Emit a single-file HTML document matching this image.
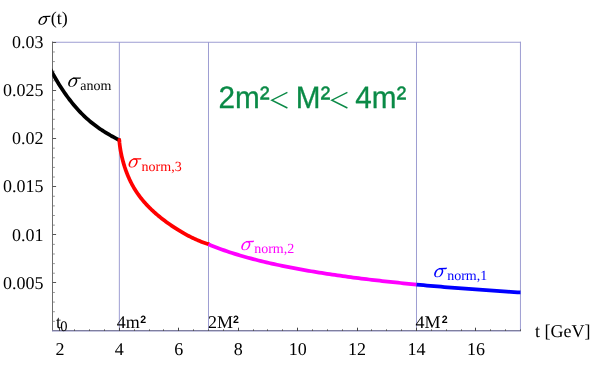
<!DOCTYPE html>
<html><head><meta charset="utf-8"><title>plot</title>
<style>
html,body{margin:0;padding:0;background:#fff;}
body{width:594px;height:367px;overflow:hidden;font-family:"Liberation Serif",serif;}
svg{display:block;will-change:transform;text-rendering:geometricPrecision;}
</style></head><body>
<svg width="594" height="367" viewBox="0 0 594 367">
<defs><clipPath id="cp"><rect x="52.2" y="30" width="468.3" height="310"/></clipPath></defs>
<rect width="594" height="367" fill="#fff"/>
<line x1="119.35" y1="42.0" x2="119.35" y2="330.6" stroke="#9d9dd2" stroke-width="1"/>
<line x1="208.49" y1="42.0" x2="208.49" y2="330.6" stroke="#9d9dd2" stroke-width="1"/>
<line x1="416.49" y1="42.0" x2="416.49" y2="330.6" stroke="#9d9dd2" stroke-width="1"/>
<line x1="52.5" y1="42.25" x2="520.95" y2="42.25" stroke="#9d9dd2" stroke-width="1"/>
<line x1="520.45" y1="41.8" x2="520.45" y2="331.1" stroke="#9d9dd2" stroke-width="1"/>
<line x1="52.5" y1="41.5" x2="52.5" y2="331.1" stroke="#6e6e6e" stroke-width="1"/>
<line x1="52.0" y1="330.6" x2="520.95" y2="330.6" stroke="#7f7fa0" stroke-width="1.1"/>
<line x1="52.0" y1="331.5" x2="520.95" y2="331.5" stroke="#9d9dd2" stroke-width="1" opacity="0.35"/>
<line x1="52.5" y1="321.33" x2="54.9" y2="321.33" stroke="#777" stroke-width="0.75"/>
<line x1="52.5" y1="311.71" x2="54.9" y2="311.71" stroke="#777" stroke-width="0.75"/>
<line x1="52.5" y1="302.09" x2="54.9" y2="302.09" stroke="#777" stroke-width="0.75"/>
<line x1="52.5" y1="292.47" x2="54.9" y2="292.47" stroke="#777" stroke-width="0.75"/>
<line x1="52.5" y1="282.50" x2="56.1" y2="282.50" stroke="#555" stroke-width="1"/>
<line x1="52.5" y1="273.23" x2="54.9" y2="273.23" stroke="#777" stroke-width="0.75"/>
<line x1="52.5" y1="263.61" x2="54.9" y2="263.61" stroke="#777" stroke-width="0.75"/>
<line x1="52.5" y1="253.99" x2="54.9" y2="253.99" stroke="#777" stroke-width="0.75"/>
<line x1="52.5" y1="244.37" x2="54.9" y2="244.37" stroke="#777" stroke-width="0.75"/>
<line x1="52.5" y1="234.50" x2="56.1" y2="234.50" stroke="#555" stroke-width="1"/>
<line x1="52.5" y1="225.13" x2="54.9" y2="225.13" stroke="#777" stroke-width="0.75"/>
<line x1="52.5" y1="215.51" x2="54.9" y2="215.51" stroke="#777" stroke-width="0.75"/>
<line x1="52.5" y1="205.89" x2="54.9" y2="205.89" stroke="#777" stroke-width="0.75"/>
<line x1="52.5" y1="196.27" x2="54.9" y2="196.27" stroke="#777" stroke-width="0.75"/>
<line x1="52.5" y1="186.50" x2="56.1" y2="186.50" stroke="#555" stroke-width="1"/>
<line x1="52.5" y1="177.03" x2="54.9" y2="177.03" stroke="#777" stroke-width="0.75"/>
<line x1="52.5" y1="167.41" x2="54.9" y2="167.41" stroke="#777" stroke-width="0.75"/>
<line x1="52.5" y1="157.79" x2="54.9" y2="157.79" stroke="#777" stroke-width="0.75"/>
<line x1="52.5" y1="148.17" x2="54.9" y2="148.17" stroke="#777" stroke-width="0.75"/>
<line x1="52.5" y1="138.50" x2="56.1" y2="138.50" stroke="#555" stroke-width="1"/>
<line x1="52.5" y1="128.93" x2="54.9" y2="128.93" stroke="#777" stroke-width="0.75"/>
<line x1="52.5" y1="119.31" x2="54.9" y2="119.31" stroke="#777" stroke-width="0.75"/>
<line x1="52.5" y1="109.69" x2="54.9" y2="109.69" stroke="#777" stroke-width="0.75"/>
<line x1="52.5" y1="100.07" x2="54.9" y2="100.07" stroke="#777" stroke-width="0.75"/>
<line x1="52.5" y1="90.50" x2="56.1" y2="90.50" stroke="#555" stroke-width="1"/>
<line x1="52.5" y1="80.83" x2="54.9" y2="80.83" stroke="#777" stroke-width="0.75"/>
<line x1="52.5" y1="71.21" x2="54.9" y2="71.21" stroke="#777" stroke-width="0.75"/>
<line x1="52.5" y1="61.59" x2="54.9" y2="61.59" stroke="#777" stroke-width="0.75"/>
<line x1="52.5" y1="51.97" x2="54.9" y2="51.97" stroke="#777" stroke-width="0.75"/>
<line x1="52.5" y1="42.50" x2="56.1" y2="42.50" stroke="#555" stroke-width="1"/>
<line x1="59.50" y1="331" x2="59.50" y2="327.7" stroke="#444" stroke-width="1"/>
<line x1="74.50" y1="331" x2="74.50" y2="329.4" stroke="#555" stroke-width="1"/>
<line x1="89.50" y1="331" x2="89.50" y2="329.4" stroke="#555" stroke-width="1"/>
<line x1="104.50" y1="331" x2="104.50" y2="329.4" stroke="#555" stroke-width="1"/>
<line x1="119.50" y1="331" x2="119.50" y2="327.7" stroke="#444" stroke-width="1"/>
<line x1="134.50" y1="331" x2="134.50" y2="329.4" stroke="#555" stroke-width="1"/>
<line x1="149.50" y1="331" x2="149.50" y2="329.4" stroke="#555" stroke-width="1"/>
<line x1="163.50" y1="331" x2="163.50" y2="329.4" stroke="#555" stroke-width="1"/>
<line x1="178.50" y1="331" x2="178.50" y2="327.7" stroke="#444" stroke-width="1"/>
<line x1="193.50" y1="331" x2="193.50" y2="329.4" stroke="#555" stroke-width="1"/>
<line x1="208.50" y1="331" x2="208.50" y2="329.4" stroke="#555" stroke-width="1"/>
<line x1="223.50" y1="331" x2="223.50" y2="329.4" stroke="#555" stroke-width="1"/>
<line x1="238.50" y1="331" x2="238.50" y2="327.7" stroke="#444" stroke-width="1"/>
<line x1="253.50" y1="331" x2="253.50" y2="329.4" stroke="#555" stroke-width="1"/>
<line x1="267.50" y1="331" x2="267.50" y2="329.4" stroke="#555" stroke-width="1"/>
<line x1="282.50" y1="331" x2="282.50" y2="329.4" stroke="#555" stroke-width="1"/>
<line x1="297.50" y1="331" x2="297.50" y2="327.7" stroke="#444" stroke-width="1"/>
<line x1="312.50" y1="331" x2="312.50" y2="329.4" stroke="#555" stroke-width="1"/>
<line x1="327.50" y1="331" x2="327.50" y2="329.4" stroke="#555" stroke-width="1"/>
<line x1="342.50" y1="331" x2="342.50" y2="329.4" stroke="#555" stroke-width="1"/>
<line x1="357.50" y1="331" x2="357.50" y2="327.7" stroke="#444" stroke-width="1"/>
<line x1="371.50" y1="331" x2="371.50" y2="329.4" stroke="#555" stroke-width="1"/>
<line x1="386.50" y1="331" x2="386.50" y2="329.4" stroke="#555" stroke-width="1"/>
<line x1="401.50" y1="331" x2="401.50" y2="329.4" stroke="#555" stroke-width="1"/>
<line x1="416.50" y1="331" x2="416.50" y2="327.7" stroke="#444" stroke-width="1"/>
<line x1="431.50" y1="331" x2="431.50" y2="329.4" stroke="#555" stroke-width="1"/>
<line x1="446.50" y1="331" x2="446.50" y2="329.4" stroke="#555" stroke-width="1"/>
<line x1="461.50" y1="331" x2="461.50" y2="329.4" stroke="#555" stroke-width="1"/>
<line x1="475.50" y1="331" x2="475.50" y2="327.7" stroke="#444" stroke-width="1"/>
<line x1="490.50" y1="331" x2="490.50" y2="329.4" stroke="#555" stroke-width="1"/>
<line x1="505.50" y1="331" x2="505.50" y2="329.4" stroke="#555" stroke-width="1"/>
<line x1="520.50" y1="331" x2="520.50" y2="329.4" stroke="#555" stroke-width="1"/>
<polyline points="48.50,65.54 49.82,68.10 51.14,70.61 52.46,73.06 53.79,75.44 55.11,77.77 56.43,80.04 57.75,82.25 59.07,84.40 60.39,86.50 61.71,88.55 63.03,90.54 64.36,92.48 65.68,94.38 67.00,96.22 68.32,98.01 69.64,99.75 70.96,101.45 72.28,103.10 73.60,104.70 74.93,106.27 76.25,107.78 77.57,109.26 78.89,110.70 80.21,112.09 81.53,113.45 82.85,114.77 84.17,116.05 85.50,117.30 86.82,118.51 88.14,119.69 89.46,120.83 90.78,121.95 92.10,123.03 93.42,124.08 94.75,125.10 96.07,126.10 97.39,127.07 98.71,128.01 100.03,128.93 101.35,129.82 102.67,130.69 103.99,131.54 105.32,132.37 106.64,133.18 107.96,133.97 109.28,134.74 110.60,135.50 111.92,136.24 113.24,136.97 114.56,137.68 115.89,138.38 117.21,139.06 118.53,139.74 119.85,140.41" fill="none" stroke="#000" stroke-width="3.75" stroke-linecap="butt" stroke-linejoin="round" clip-path="url(#cp)"/>
<polyline points="119.35,139.95 119.36,140.43 119.38,140.96 119.41,141.55 119.45,142.18 119.51,142.86 119.58,143.59 119.66,144.35 119.75,145.15 119.86,145.98 119.98,146.85 120.11,147.75 120.26,148.67 120.41,149.63 120.58,150.60 120.77,151.60 120.96,152.62 121.17,153.65 121.39,154.70 121.62,155.77 121.87,156.84 122.13,157.93 122.40,159.03 122.68,160.14 122.98,161.25 123.28,162.37 123.61,163.50 123.94,164.62 124.29,165.75 124.64,166.89 125.02,168.02 125.40,169.15 125.80,170.28 126.21,171.41 126.63,172.53 127.06,173.65 127.51,174.77 127.97,175.88 128.44,176.99 128.93,178.09 129.42,179.18 129.93,180.27 130.46,181.35 130.99,182.43 131.54,183.49 132.10,184.55 132.67,185.60 133.26,186.64 133.85,187.68 134.47,188.70 135.09,189.72 135.72,190.73 136.37,191.73 137.03,192.72 137.71,193.71 138.39,194.68 139.09,195.65 139.80,196.61 140.53,197.56 141.26,198.50 142.01,199.43 142.78,200.36 143.55,201.28 144.34,202.19 145.14,203.10 145.95,204.00 146.77,204.89 147.61,205.78 148.46,206.66 149.32,207.53 150.20,208.40 151.09,209.26 151.99,210.11 152.90,210.97 153.82,211.81 154.76,212.65 155.71,213.49 156.68,214.33 157.65,215.15 158.64,215.98 159.64,216.80 160.65,217.62 161.68,218.43 162.72,219.24 163.77,220.05 164.83,220.85 165.91,221.65 167.00,222.45 168.10,223.24 169.22,224.03 170.34,224.81 171.48,225.59 172.63,226.37 173.80,227.14 174.98,227.91 176.17,228.68 177.37,229.44 178.58,230.19 179.81,230.94 181.05,231.68 182.30,232.42 183.57,233.15 184.85,233.87 186.14,234.58 187.44,235.29 188.76,235.98 190.09,236.67 191.43,237.34 192.78,238.00 194.15,238.65 195.53,239.28 196.92,239.90 198.32,240.50 199.74,241.08 201.17,241.65 202.61,242.20 204.06,242.72 205.53,243.22 207.01,243.70 208.50,244.15" fill="none" stroke="#f00" stroke-width="3.75" stroke-linecap="round" stroke-linejoin="round" clip-path="url(#cp)"/>
<polyline points="208.50,244.34 211.13,245.44 213.77,246.49 216.40,247.51 219.03,248.50 221.66,249.46 224.30,250.39 226.93,251.29 229.56,252.17 232.20,253.02 234.83,253.85 237.46,254.66 240.09,255.45 242.73,256.22 245.36,256.96 247.99,257.70 250.63,258.41 253.26,259.11 255.89,259.79 258.53,260.45 261.16,261.10 263.79,261.74 266.42,262.36 269.06,262.97 271.69,263.57 274.32,264.15 276.96,264.72 279.59,265.29 282.22,265.84 284.85,266.38 287.49,266.90 290.12,267.42 292.75,267.93 295.39,268.43 298.02,268.92 300.65,269.41 303.28,269.88 305.92,270.35 308.55,270.80 311.18,271.25 313.82,271.69 316.45,272.13 319.08,272.55 321.72,272.97 324.35,273.39 326.98,273.79 329.61,274.19 332.25,274.59 334.88,274.97 337.51,275.35 340.15,275.73 342.78,276.10 345.41,276.46 348.04,276.82 350.68,277.17 353.31,277.52 355.94,277.86 358.58,278.20 361.21,278.53 363.84,278.86 366.47,279.18 369.11,279.50 371.74,279.82 374.37,280.13 377.01,280.43 379.64,280.73 382.27,281.03 384.91,281.32 387.54,281.61 390.17,281.90 392.80,282.18 395.44,282.46 398.07,282.73 400.70,283.00 403.34,283.27 405.97,283.53 408.60,283.79 411.23,284.05 413.87,284.30 416.50,284.55" fill="none" stroke="#f0f" stroke-width="3.75" stroke-linecap="butt" stroke-linejoin="round" clip-path="url(#cp)"/>
<polyline points="416.50,284.55 419.98,284.88 423.46,285.20 426.95,285.52 430.43,285.83 433.91,286.14 437.39,286.44 440.88,286.74 444.36,287.03 447.84,287.32 451.32,287.60 454.80,287.88 458.29,288.15 461.77,288.42 465.25,288.69 468.73,288.95 472.22,289.21 475.70,289.47 479.18,289.72 482.66,289.97 486.15,290.21 489.63,290.46 493.11,290.69 496.59,290.93 500.07,291.16 503.56,291.39 507.04,291.61 510.52,291.84 514.00,292.06 517.49,292.27 520.97,292.49 524.45,292.70" fill="none" stroke="#00f" stroke-width="3.75" stroke-linecap="butt" stroke-linejoin="round" clip-path="url(#cp)"/>
<text x="43.6" y="48.10" font-size="18" fill="#000" text-anchor="end" font-family="Liberation Serif, serif" >0.03</text>
<text x="43.6" y="96.20" font-size="18" fill="#000" text-anchor="end" font-family="Liberation Serif, serif" >0.025</text>
<text x="43.6" y="144.30" font-size="18" fill="#000" text-anchor="end" font-family="Liberation Serif, serif" >0.02</text>
<text x="43.6" y="192.40" font-size="18" fill="#000" text-anchor="end" font-family="Liberation Serif, serif" >0.015</text>
<text x="43.6" y="240.50" font-size="18" fill="#000" text-anchor="end" font-family="Liberation Serif, serif" >0.01</text>
<text x="43.6" y="288.60" font-size="18" fill="#000" text-anchor="end" font-family="Liberation Serif, serif" >0.005</text>
<text x="59.92" y="354.8" font-size="18" fill="#000" text-anchor="middle" font-family="Liberation Serif, serif" >2</text>
<text x="119.35" y="354.8" font-size="18" fill="#000" text-anchor="middle" font-family="Liberation Serif, serif" >4</text>
<text x="178.78" y="354.8" font-size="18" fill="#000" text-anchor="middle" font-family="Liberation Serif, serif" >6</text>
<text x="238.21" y="354.8" font-size="18" fill="#000" text-anchor="middle" font-family="Liberation Serif, serif" >8</text>
<text x="297.63" y="354.8" font-size="18" fill="#000" text-anchor="middle" font-family="Liberation Serif, serif" >10</text>
<text x="357.06" y="354.8" font-size="18" fill="#000" text-anchor="middle" font-family="Liberation Serif, serif" >12</text>
<text x="416.49" y="354.8" font-size="18" fill="#000" text-anchor="middle" font-family="Liberation Serif, serif" >14</text>
<text x="475.92" y="354.8" font-size="18" fill="#000" text-anchor="middle" font-family="Liberation Serif, serif" >16</text>
<text x="535.0" y="336.8" font-size="18" fill="#000" text-anchor="start" font-family="Liberation Serif, serif" >t [GeV]</text>
<g transform="translate(38.1,24.6) scale(0.95)" fill="#000"><g transform="skewX(-20)"> <path fill-rule="evenodd" d="M -1.0 -4.4 a 4.3 4.5 0 1 0 8.6 0 a 4.3 4.5 0 1 0 -8.6 0 Z M 0.8 -4.2 a 2.6 3.65 0 1 1 5.2 0 a 2.6 3.65 0 1 1 -5.2 0 Z"/></g> <path d="M 5.0 -9.1 L 12.0 -9.25 L 13.0 -9.5 L 13.0 -8.25 L 12.0 -7.95 L 5.2 -7.9 Z"/></g>
<text x="50.7" y="24.2" font-size="18" fill="#000" text-anchor="start" font-family="Liberation Serif, serif" >(t)</text>
<text x="55.9" y="328.2" font-size="18" fill="#000" text-anchor="start" font-family="Liberation Serif, serif" >t<tspan font-size="14.5" dy="2.8" dx="-0.7">0</tspan></text>
<text x="116.8" y="327.8" font-size="18" fill="#000" text-anchor="start" font-family="Liberation Serif, serif" >4m<tspan font-family="Liberation Sans, sans-serif" font-weight="bold" font-size="10.6" dy="-5" dx="0.4">2</tspan></text>
<text x="208.1" y="327.8" font-size="18" fill="#000" text-anchor="start" font-family="Liberation Serif, serif" >2M<tspan font-family="Liberation Sans, sans-serif" font-weight="bold" font-size="10.6" dy="-5" dx="0.0">2</tspan></text>
<text x="415.5" y="327.8" font-size="18" fill="#000" text-anchor="start" font-family="Liberation Serif, serif" >4M<tspan font-family="Liberation Sans, sans-serif" font-weight="bold" font-size="10.6" dy="-5" dx="1.2">2</tspan></text>
<g transform="translate(67.8,86.7) scale(1.0)" fill="#000"><g transform="skewX(-20)"> <path fill-rule="evenodd" d="M -1.0 -4.4 a 4.3 4.5 0 1 0 8.6 0 a 4.3 4.5 0 1 0 -8.6 0 Z M 0.8 -4.2 a 2.6 3.65 0 1 1 5.2 0 a 2.6 3.65 0 1 1 -5.2 0 Z"/></g> <path d="M 5.0 -9.1 L 12.0 -9.25 L 13.0 -9.5 L 13.0 -8.25 L 12.0 -7.95 L 5.2 -7.9 Z"/></g>
<text x="80.2" y="89.9" font-size="14" fill="#000" text-anchor="start" font-family="Liberation Serif, serif" >anom</text>
<g transform="translate(128.2,167.4) scale(1.0)" fill="#f00"><g transform="skewX(-20)"> <path fill-rule="evenodd" d="M -1.0 -4.4 a 4.3 4.5 0 1 0 8.6 0 a 4.3 4.5 0 1 0 -8.6 0 Z M 0.8 -4.2 a 2.6 3.65 0 1 1 5.2 0 a 2.6 3.65 0 1 1 -5.2 0 Z"/></g> <path d="M 5.0 -9.1 L 12.0 -9.25 L 13.0 -9.5 L 13.0 -8.25 L 12.0 -7.95 L 5.2 -7.9 Z"/></g>
<text x="141.6" y="170.7" font-size="14" fill="#f00" text-anchor="start" font-family="Liberation Serif, serif" >norm,3</text>
<g transform="translate(240.9,250.1) scale(1.0)" fill="#f0f"><g transform="skewX(-20)"> <path fill-rule="evenodd" d="M -1.0 -4.4 a 4.3 4.5 0 1 0 8.6 0 a 4.3 4.5 0 1 0 -8.6 0 Z M 0.8 -4.2 a 2.6 3.65 0 1 1 5.2 0 a 2.6 3.65 0 1 1 -5.2 0 Z"/></g> <path d="M 5.0 -9.1 L 12.0 -9.25 L 13.0 -9.5 L 13.0 -8.25 L 12.0 -7.95 L 5.2 -7.9 Z"/></g>
<text x="254.2" y="252.6" font-size="14" fill="#f0f" text-anchor="start" font-family="Liberation Serif, serif" >norm,2</text>
<g transform="translate(433.8,277.1) scale(1.0)" fill="#00f"><g transform="skewX(-20)"> <path fill-rule="evenodd" d="M -1.0 -4.4 a 4.3 4.5 0 1 0 8.6 0 a 4.3 4.5 0 1 0 -8.6 0 Z M 0.8 -4.2 a 2.6 3.65 0 1 1 5.2 0 a 2.6 3.65 0 1 1 -5.2 0 Z"/></g> <path d="M 5.0 -9.1 L 12.0 -9.25 L 13.0 -9.5 L 13.0 -8.25 L 12.0 -7.95 L 5.2 -7.9 Z"/></g>
<text x="447.2" y="280.0" font-size="14" fill="#00f" text-anchor="start" font-family="Liberation Serif, serif" >norm,1</text>
<text transform="translate(218.5,107.9) scale(1,1.045)" font-size="29.7" fill="#0a8a46" stroke="#0a8a46" stroke-width="0.3" font-family="Liberation Sans, sans-serif">2m²</text>
<text transform="translate(295.7,107.9) scale(1,1.045)" font-size="29.7" fill="#0a8a46" stroke="#0a8a46" stroke-width="0.3" font-family="Liberation Sans, sans-serif">M²</text>
<text transform="translate(355.3,107.9) scale(1,1.045)" font-size="29.7" fill="#0a8a46" stroke="#0a8a46" stroke-width="0.3" font-family="Liberation Sans, sans-serif">4m²</text>
<polyline points="287.40000000000003,92.4 271.8,100.2 287.40000000000003,108.0" fill="none" stroke="#0a8a46" stroke-width="1.4"/>
<polyline points="347.40000000000003,92.4 331.8,100.2 347.40000000000003,108.0" fill="none" stroke="#0a8a46" stroke-width="1.4"/>
</svg>
</body></html>
